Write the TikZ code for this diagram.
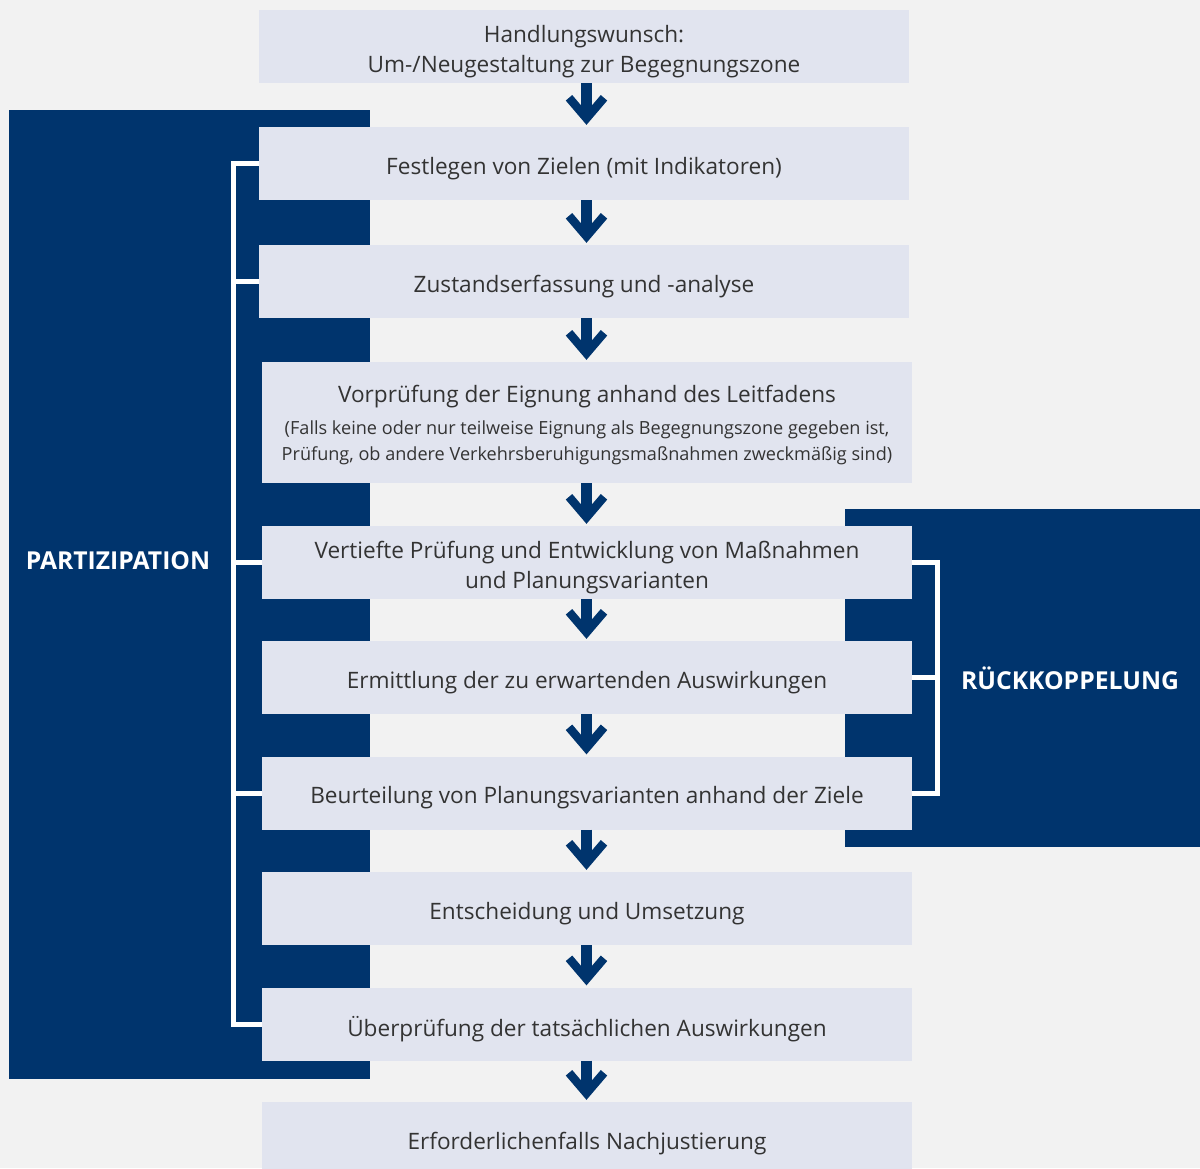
\documentclass[tikz,border=0pt]{standalone}
\usepackage{fontspec}
\setmainfont{Open Sans}
\usepackage{xcolor}
\usepackage{tikz}
\usetikzlibrary{calc}

\definecolor{pagegray}{HTML}{F2F2F2}
\definecolor{boxgray}{HTML}{E1E4EF}
\definecolor{darkblue}{HTML}{00346D}
\definecolor{textgray}{HTML}{333333}

\newcommand{\mainsize}{\fontsize{22.6}{30}\selectfont}
\newcommand{\subsize}{\fontsize{18.1}{26}\selectfont}

% down arrow between two boxes: shaft plus a thick chevron head
\newcommand{\flowarrow}[2]{%
  \coordinate (tip) at ($(#2.north -| col)+(0,-2.5)$);
  \draw[shaft] (#1.south -| col) -- ($(tip)+(0,-6)$);
  \draw[head] ($(tip)+(-17.5,-26.5)$) -- ($(tip)+(0,-6)$) -- ($(tip)+(17.5,-26.5)$);
}

\begin{document}
\begin{tikzpicture}[x=1pt,y=-1pt,
  step box/.style={fill=boxgray,minimum width=650pt,minimum height=73pt,inner sep=0pt},
  step text/.style={text=textgray,font=\mainsize,align=center,inner sep=0pt,yshift=-5pt},
  shaft/.style={darkblue,line width=11pt,line cap=butt},
  head/.style={darkblue,line width=8.5pt,line cap=butt,line join=miter},
  bracket/.style={white,line width=5pt,line join=miter,line cap=butt},
  panel label/.style={text=white,anchor=base,inner sep=0pt,
    font=\fontsize{24.7}{28}\selectfont\bfseries}]

  \clip (0,0) rectangle (1200,1168);
  \fill[pagegray] (0,0) rectangle (1200,1168);

  % dark side panels
  \fill[darkblue] (9,110) rectangle (370,1079);
  \fill[darkblue] (845,509) rectangle (1200,847);

  \coordinate (col) at (586.5,0);
  \coordinate (lx) at (233.5,0);
  \coordinate (rx) at (937,0);

  % the process steps
  \node[step box] (hw) at (584,46.5) {};
  \node[step box] (ziele) at (584,163.5) {};
  \node[step box] (zustand) at (584,281.5) {};
  \node[step box,minimum height=121pt] (vorpruef) at (587,422.5) {};
  \node[step box] (vertieft) at (587,562.5) {};
  \node[step box] (ermittl) at (587,677.5) {};
  \node[step box] (beurteil) at (587,793) {};
  \node[step box] (entsch) at (587,908.5) {};
  \node[step box] (ueberpr) at (587,1024) {};
  \node[step box] (nachjust) at (587,1138.5) {};

  \node[step text] (hw-t) at (hw) {Handlungswunsch:\\Um-/Neugestaltung zur Begegnungszone};
  \node[step text] (ziele-t) at (ziele) {Festlegen von Zielen (mit Indikatoren)};
  \node[step text] (zustand-t) at (zustand) {Zustandserfassung und -analyse};
  \node[step text,yshift=2pt] (vorpruef-t) at (vorpruef)
    {Vorprüfung der Eignung anhand des Leitfadens\\[2pt]
     \subsize (Falls keine oder nur teilweise Eignung als Begegnungszone gegeben ist,\\[-4pt]
     \subsize Prüfung, ob andere Verkehrsberuhigungsmaßnahmen zweckmäßig sind)};
  \node[step text] (vertieft-t) at (vertieft) {Vertiefte Prüfung und Entwicklung von Maßnahmen\\und Planungsvarianten};
  \node[step text] (ermittl-t) at (ermittl) {Ermittlung der zu erwartenden Auswirkungen};
  \node[step text] (beurteil-t) at (beurteil) {Beurteilung von Planungsvarianten anhand der Ziele};
  \node[step text] (entsch-t) at (entsch) {Entscheidung und Umsetzung};
  \node[step text] (ueberpr-t) at (ueberpr) {Überprüfung der tatsächlichen Auswirkungen};
  \node[step text] (nachjust-t) at (nachjust) {Erforderlichenfalls Nachjustierung};

  \flowarrow{hw}{ziele}
  \flowarrow{ziele}{zustand}
  \flowarrow{zustand}{vorpruef}
  \flowarrow{vorpruef}{vertieft}
  \flowarrow{vertieft}{ermittl}
  \flowarrow{ermittl}{beurteil}
  \flowarrow{beurteil}{entsch}
  \flowarrow{entsch}{ueberpr}
  \flowarrow{ueberpr}{nachjust}

  % brackets
  \draw[bracket] (ziele.west) -- (ziele.west -| lx) -- (ueberpr.west -| lx) -- (ueberpr.west);
  \foreach \s in {zustand,vertieft,beurteil}
    \draw[bracket] (\s.west) -- (\s.west -| lx);
  \draw[bracket] (vertieft.east) -- (vertieft.east -| rx) -- (beurteil.east -| rx) -- (beurteil.east);
  \draw[bracket] (ermittl.east) -- (ermittl.east -| rx);

  \node[panel label] (partizip) at (118,569) {PARTIZIPATION};
  \node[panel label] (rueck) at (1070,689) {RÜCKKOPPELUNG};
\end{tikzpicture}
\end{document}
